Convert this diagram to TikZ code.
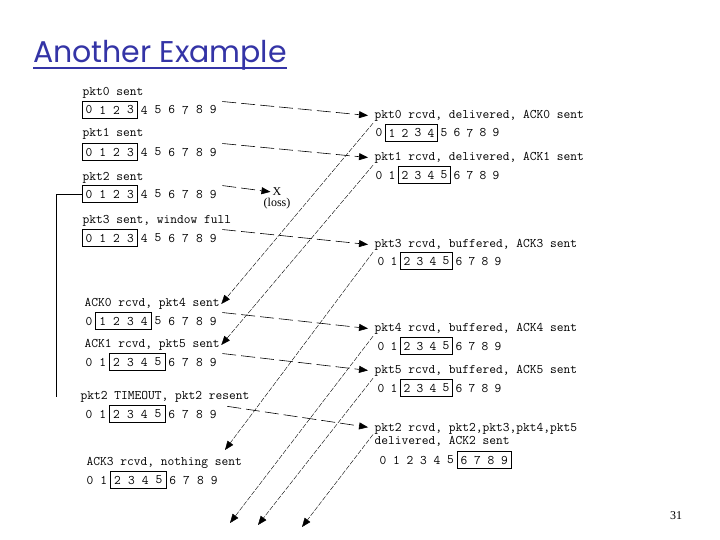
\documentclass[tikz,border=0pt]{standalone}
\usepackage{fontspec}
\usepackage{tikz}
\usetikzlibrary{arrows.meta,positioning,fit}
\setmainfont{Liberation Serif}
\newfontfamily\titlefont{Poppins}
\definecolor{TitleBlue}{HTML}{3434A6}
\newcommand{\statefont}{\ttfamily\fontsize{13.1bp}{13bp}\selectfont}
% window row: name, x of digit 0, y, pitch, first, last of window
\newcommand{\winrow}[6]{%
  \foreach \dg in {0,...,9}
    \node[digit, minimum width=#4bp] (#1-\dg) at ({#2+\dg*#4},#3) {\dg};
  \node[winbox, fit=(#1-#5)(#1-#6)] (#1box) {};
}
\tikzset{
  titletext/.style={font=\titlefont\fontsize{30bp}{34bp}\selectfont,text=TitleBlue,inner sep=0pt,anchor=base west},
  state/.style={font=\statefont,inner sep=1.5pt,anchor=west,align=left},
  digit/.style={font=\statefont,inner sep=0pt,minimum height=17bp},
  winbox/.style={draw,line width=0.8pt,inner sep=0pt},
  data/.style={-{Triangle[length=9bp,width=7bp]},dash pattern=on 14bp off 5bp,line width=0.6pt,shorten <=2bp,shorten >=5bp},
  ackline/.style={-{Triangle[length=9bp,width=7bp]},dash pattern=on 5bp off 1.5bp,line width=0.4pt},
  timer/.style={line width=0.6pt},
  plain/.style={font=\fontsize{12bp}{14bp}\selectfont,inner sep=1pt},
}

\begin{document}
\begin{tikzpicture}[x=1bp,y=-1bp]
  \useasboundingbox (0,0) rectangle (720,540);

  % Title
  \node[titletext] (title) at (33,63) {Another Example};
  \draw[TitleBlue,line width=2bp] ([yshift=-5bp]title.base west) -- ([yshift=-5bp]title.base east);

  % Sender side
  \node[state] (s0) at (81,93) {pkt0 sent};
  \winrow{s0r}{89}{110}{13.8}{0}{3}
  \node[state] (s1) at (81,134) {pkt1 sent};
  \winrow{s1r}{89}{152}{13.8}{0}{3}
  \node[state] (s2) at (81,178) {pkt2 sent};
  \winrow{s2r}{89}{194}{13.8}{0}{3}
  \node[state] (s3) at (81,221) {pkt3 sent, window full};
  \winrow{s3r}{89}{238}{13.8}{0}{3}
  \node[state] (a0) at (83,304) {ACK0 rcvd, pkt4 sent};
  \winrow{a0r}{89}{321}{13.8}{1}{4}
  \node[state] (a1) at (83,345) {ACK1 rcvd, pkt5 sent};
  \winrow{a1r}{89}{362}{13.8}{2}{5}
  \node[state] (tm) at (79,397) {pkt2 TIMEOUT, pkt2 resent};
  \winrow{tmr}{89}{414}{13.8}{2}{5}
  \node[state] (a3) at (85,463) {ACK3 rcvd, nothing sent};
  \winrow{a3r}{90}{480}{13.8}{2}{5}

  % Receiver side
  \node[state] (r0) at (373,116) {pkt0 rcvd, delivered, ACK0 sent};
  \winrow{r0r}{379}{133}{13}{1}{4}
  \node[state] (r1) at (373,158) {pkt1 rcvd, delivered, ACK1 sent};
  \winrow{r1r}{379}{175}{13}{2}{5}
  \node[state] (r3) at (373,245) {pkt3 rcvd, buffered, ACK3 sent};
  \winrow{r3r}{381}{261}{13}{2}{5}
  \node[state] (r4) at (373,329) {pkt4 rcvd, buffered, ACK4 sent};
  \winrow{r4r}{381}{346}{13}{2}{5}
  \node[state] (r5) at (373,371) {pkt5 rcvd, buffered, ACK5 sent};
  \winrow{r5r}{381}{388}{13}{2}{5}
  \node[state] (r2) at (373,434.5) {pkt2 rcvd, pkt2,pkt3,pkt4,pkt5\\delivered, ACK2 sent};
  \winrow{r2r}{383}{460}{13.5}{6}{9}

  % Loss mark and timer
  \node[plain] (lossx) at (277,192) {X};
  \node[plain, below=0bp of lossx] (loss) {(loss)};
  \coordinate (tmo) at (56,397);
  \draw[timer] (s2rbox.west) -| (tmo);

  % Data packets
  \draw[data] (s0r-9.north east) -- (r0.west);
  \draw[data] (s1r-9.north east) -- (r1.west);
  \draw[data,shorten >=1bp] (s2r-9.north east) -- (lossx.west);
  \draw[data] (s3r-9.north east) -- (r3.west);
  \draw[data] (a0r-9.north east) -- (r4.west);
  \draw[data] (a1r-9.north east) -- (r5.west);
  \draw[data,shorten <=7bp] (tmr-9.north east) -- ([yshift=6.5bp]r2.west);

  % ACKs
  \coordinate (ack3end) at (225,450);
  \coordinate (ack4end) at (230,523);
  \coordinate (ack5end) at (258,525);
  \coordinate (ack2end) at (302,527);
  \draw[ackline] (r0.south west) -- (a0.east);
  \draw[ackline] (r1.south west) -- (a1.east);
  \draw[ackline] (r3.south west) -- (ack3end);
  \draw[ackline] (r4.south west) -- (ack4end);
  \draw[ackline] (r5.south west) -- (ack5end);
  \draw[ackline] (r2.west) -- (ack2end);

  % Page number
  \node[plain] (pagenum) at (676,516) {31};
\end{tikzpicture}
\end{document}
